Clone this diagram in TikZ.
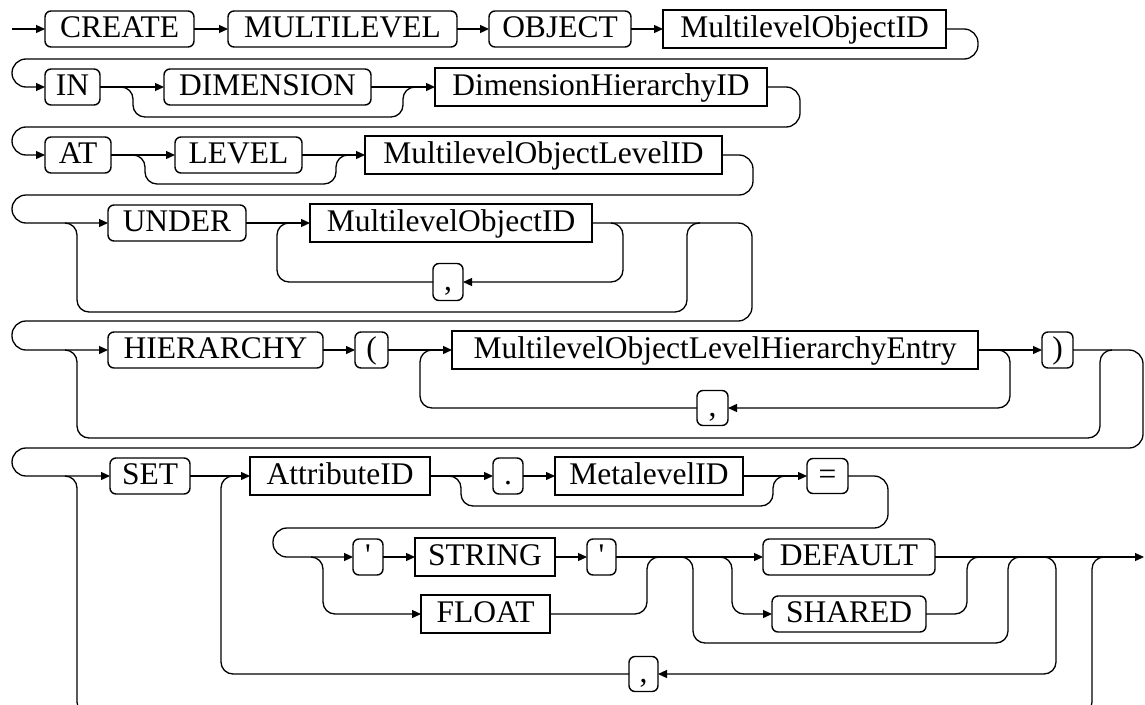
\documentclass[tikz,border=0pt]{standalone}
\usepackage{fontspec}
\newfontfamily\railfont{Liberation Serif}
\usetikzlibrary{arrows.meta}
\begin{document}
\begin{tikzpicture}[x=1pt,y=-1pt,
  line width=1.3pt,
  box/.style={draw, line width=1.4pt, inner sep=0pt, outer sep=0pt,
    text height=23pt, text depth=7pt,
    font=\railfont\fontsize{31.5}{36}\selectfont},
  kw/.style={box, rounded corners=6pt, minimum height=36pt},
  ident/.style={box, minimum height=38pt},
  rail/.style={rounded corners=12pt},
  loopback/.style={rounded corners=14pt},
  fwd/.style={-{Triangle[length=9pt,width=8pt]}},
]
\useasboundingbox (0,0) rectangle (1145,704);

% ---------- CREATE MULTILEVEL OBJECT id
\coordinate (start) at (12,29);
\node[kw, minimum width=149pt] (create) at (119.5,29) {CREATE};
\node[kw, minimum width=229pt] (multilevel) at (342.5,29) {MULTILEVEL};
\node[kw, minimum width=142pt] (object) at (560,29) {OBJECT};
\node[ident, minimum width=283pt] (objid) at (804.5,29) {MultilevelObjectID};
\draw[fwd] (start) -- (create.west);
\draw[fwd] (create.east) -- (multilevel.west);
\draw[fwd] (multilevel.east) -- (object.west);
\draw[fwd] (object.east) -- (objid.west);

% ---------- IN [DIMENSION] id
\node[kw, minimum width=55pt] (in) at (72.5,87) {IN};
\node[kw, minimum width=207pt] (dimension) at (267.5,87) {DIMENSION};
\node[ident, minimum width=332pt] (dimid) at (601,87) {DimensionHierarchyID};
\draw[loopback,fwd] (objid.east) -- (978,29) -- (978,59) -- (12,59) -- (12,87) -- (in.west);
\coordinate (dimsplit) at (121,87);
\coordinate (dimjoin) at (415,87);
\draw[fwd] (in.east) -- (dimension.west);
\draw[fwd] (dimension.east) -- (dimid.west);
\draw[rail] (dimsplit) -- (133,87) -- (133,117) -- (403,117) -- (403,87) -- (dimjoin);

% ---------- AT [LEVEL] id
\node[kw, minimum width=66pt] (at) at (78,155) {AT};
\node[kw, minimum width=127pt] (level) at (238.5,155) {LEVEL};
\node[ident, minimum width=357pt] (levelid) at (543.5,155) {MultilevelObjectLevelID};
\draw[loopback,fwd] (dimid.east) -- (800,87) -- (800,127) -- (12,127) -- (12,155) -- (at.west);
\coordinate (lvlsplit) at (133,155);
\coordinate (lvljoin) at (348,155);
\draw[fwd] (at.east) -- (level.west);
\draw[fwd] (level.east) -- (levelid.west);
\draw[rail] (lvlsplit) -- (145,155) -- (145,184) -- (336,184) -- (336,155) -- (lvljoin);

% ---------- [UNDER id {, id}]
\node[kw, minimum width=138pt] (under) at (177,223) {UNDER};
\node[ident, minimum width=282pt] (parentid) at (451,223) {MultilevelObjectID};
\node[kw, minimum width=30pt, minimum height=37pt] (sep1) at (448,282) {,};
\draw[loopback,fwd] (levelid.east) -- (753,155) -- (753,195) -- (12,195) -- (12,223) -- (under.west);
\draw[fwd] (under.east) -- (parentid.west);
\coordinate (undsplit) at (65,223);
\coordinate (undjoin) at (700,223);
\draw[rail] (undsplit) -- (77,223) -- (77,312) -- (687,312) -- (687,223) -- (undjoin);
\coordinate (par1split) at (611,223);
\coordinate (par1join) at (290,223);
\draw[rail,fwd] (par1split) -- (623,223) -- (623,282) -- (sep1.east);
\draw[rail] (sep1.west) -- (277,282) -- (277,223) -- (par1join);

% ---------- [HIERARCHY ( entry {, entry} )]
\node[kw, minimum width=215pt] (hierarchy) at (215.5,350) {HIERARCHY};
\node[kw, minimum width=33pt] (lpar) at (371.5,350) {(};
\node[ident, minimum width=526pt] (entry) at (715,350) {MultilevelObjectLevelHierarchyEntry};
\node[kw, minimum width=31pt, minimum height=35pt] (sep2) at (712.5,408) {,};
\node[kw, minimum width=31pt] (rpar) at (1057.5,350) {)};
\draw[loopback,fwd] (parentid.east) -- (752,223) -- (752,321) -- (12,321) -- (12,350) -- (hierarchy.west);
\draw[fwd] (hierarchy.east) -- (lpar.west);
\draw[fwd] (lpar.east) -- (entry.west);
\draw[fwd] (entry.east) -- (rpar.west);
\coordinate (hiesplit) at (65,350);
\coordinate (hiejoin) at (1112,350);
\draw[rail] (hiesplit) -- (77,350) -- (77,438) -- (1100,438) -- (1100,350) -- (hiejoin);
\coordinate (entsplit) at (998,350);
\coordinate (entjoin) at (432,350);
\draw[rail,fwd] (entsplit) -- (1010,350) -- (1010,408) -- (sep2.east);
\draw[rail] (sep2.west) -- (420,408) -- (420,350) -- (entjoin);

% ---------- [SET attr [. meta] = value [DEFAULT|SHARED] {, ...}]
\node[kw, minimum width=80pt] (set) at (150,476) {SET};
\node[ident, minimum width=180pt] (attr) at (340,476) {AttributeID};
\node[kw, minimum width=30pt] (dot) at (508,476) {.};
\node[ident, minimum width=188pt] (meta) at (649,476) {MetalevelID};
\node[kw, minimum width=41pt, minimum height=35pt] (eq) at (827.5,476) {=};
\draw[loopback,fwd] (rpar.east) -- (1143,350) -- (1143,448) -- (12,448) -- (12,476) -- (set.west);
\draw[fwd] (set.east) -- (attr.west);
\draw[fwd] (attr.east) -- (dot.west);
\draw[fwd] (dot.east) -- (meta.west);
\draw[fwd] (meta.east) -- (eq.west);
\coordinate (dotsplit) at (449,476);
\coordinate (dotjoin) at (786,476);
\draw[rail] (dotsplit) -- (461,476) -- (461,506) -- (773,506) -- (773,476) -- (dotjoin);

\node[kw, minimum width=30pt] (q1) at (368,557) {'};
\node[ident, minimum width=140pt] (string) at (485,557) {STRING};
\node[kw, minimum width=29pt] (q2) at (601.5,557) {'};
\node[ident, minimum width=129pt] (float) at (485.5,614) {FLOAT};
\node[kw, minimum width=172pt] (default) at (849,557) {DEFAULT};
\node[kw, minimum width=154pt] (shared) at (849,614) {SHARED};
\node[kw, minimum width=29pt, minimum height=35pt] (sep3) at (643.5,674) {,};
\coordinate (finish) at (1144,557);
\draw[loopback,fwd] (eq.east) -- (888,476) -- (888,528) -- (273,528) -- (273,557) -- (q1.west);
\draw[fwd] (q1.east) -- (string.west);
\draw[fwd] (string.east) -- (q2.west);
\coordinate (fltsplit) at (311,557);
\coordinate (fltjoin) at (659,557);
\draw[rail,fwd] (fltsplit) -- (323,557) -- (323,614) -- (float.west);
\draw[rail] (float.east) -- (647,614) -- (647,557) -- (fltjoin);
\draw[fwd] (q2.east) -- (default.west);
\coordinate (optsplit) at (681,557);
\coordinate (optjoin) at (1020,557);
\draw[rail] (optsplit) -- (693,557) -- (693,643) -- (1008,643) -- (1008,557) -- (optjoin);
\coordinate (shrsplit) at (720,557);
\coordinate (shrjoin) at (979,557);
\draw[rail,fwd] (shrsplit) -- (732,557) -- (732,614) -- (shared.west);
\draw[rail] (shared.east) -- (967,614) -- (967,557) -- (shrjoin);
\draw[fwd] (default.east) -- (finish);
\coordinate (repsplit) at (1044,557);
\coordinate (repjoin) at (234,476);
\draw[rail,fwd] (repsplit) -- (1056,557) -- (1056,674) -- (sep3.east);
\draw[rail] (sep3.west) -- (221,674) -- (221,476) -- (repjoin);
\coordinate (setsplit) at (65,476);
\coordinate (setjoin) at (1104,557);
\draw[rail] (setsplit) -- (77,476) -- (77,714) -- (1092,714) -- (1092,557) -- (setjoin);
\end{tikzpicture}
\end{document}
